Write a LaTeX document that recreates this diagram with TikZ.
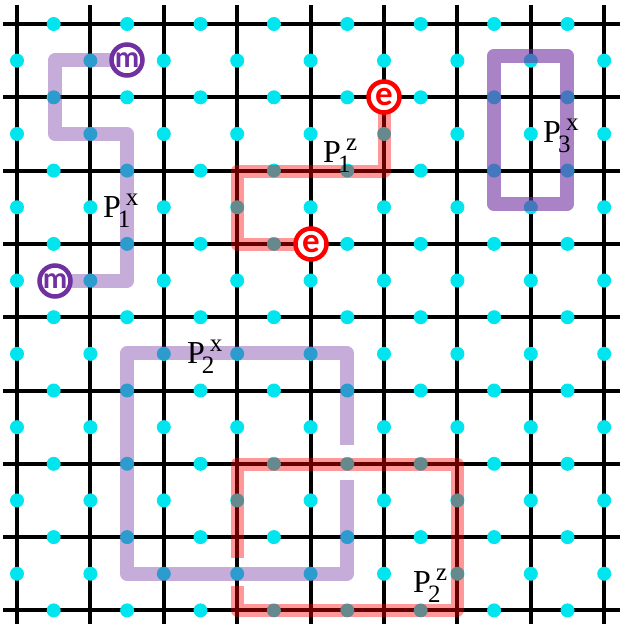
\documentclass[tikz,border=0pt]{standalone}
\usepackage{fontspec}
\setmainfont{Liberation Serif}
\newfontfamily\circfont{Carlito}
\definecolor{pur}{RGB}{112,48,160}
\definecolor{dotc}{RGB}{0,229,238}
\newcommand\plab[2]{\fontsize{32}{32}\selectfont P\kern-3pt\rlap{\raisebox{-10pt}{\fontsize{25}{25}\selectfont #1}}\kern8pt\raisebox{12pt}{\fontsize{25}{25}\selectfont #2}}
\tikzset{
  gridline/.style={line width=4pt, black},
  qdot/.style={fill=dotc, draw=none},
  xpath/.style={line width=13.5pt, pur, opacity=0.4, line join=round},
  xpathdark/.style={line width=14.5pt, pur, opacity=0.6, line join=round},
  zpath/.style={line width=13pt, red, opacity=0.4, line join=round},
  mcirc/.style={circle, draw=pur, fill=white, line width=4.5pt, minimum size=31pt, inner sep=0pt, text=pur, font=\circfont\bfseries\fontsize{30}{30}\selectfont},
  ecirc/.style={circle, draw=red, fill=white, line width=4.5pt, minimum size=31pt, inner sep=0pt, text=red, font=\circfont\bfseries\fontsize{35}{35}\selectfont},
  lab/.style={anchor=base west, inner sep=0pt, text=black}
}
\begin{document}
\begin{tikzpicture}[x=1pt,y=-1pt]
\useasboundingbox (0,0) rectangle (623,629);
% grid
\foreach \i in {0,...,8} { \draw[gridline] ({17+73.4*\i},5) -- ({17+73.4*\i},624); }
\foreach \j in {0,...,8} { \draw[gridline] (3,{24+73.3*\j}) -- (620,{24+73.3*\j}); }
% dots on edge midpoints
\foreach \i in {0,...,7} { \foreach \j in {0,...,8} {
  \fill[qdot] ({17+73.4*(\i+0.5)},{24+73.3*\j}) circle (7pt); } }
\foreach \i in {0,...,8} { \foreach \j in {0,...,7} {
  \fill[qdot] ({17+73.4*\i},{24+73.3*(\j+0.5)}) circle (7pt); } }
% named points
\coordinate (m1) at (127,60);
\coordinate (m2) at (55,281);
\coordinate (e1) at (384,97);
\coordinate (e2) at (311,244);
% P1^x
\draw[xpath] (m1) -- (55,60) -- (55,134) -- (127,134) -- (127,281) -- (m2);
% P3^x
\draw[xpathdark] (494,56) rectangle (567,204);
% P2^x with gap
\draw[xpath] (347,445) -- (347,353) -- (127,353) -- (127,574) -- (347,574) -- (347,480);
% P1^z
\draw[zpath] (e1) -- (384,171) -- (237,171) -- (237,244) -- (e2);
% P2^z with gap
\draw[zpath] (237,558) -- (237,464) -- (457,464) -- (457,610) -- (237,610) -- (237,586);
% circles
\node[mcirc] (mc1) at (m1) {m};
\node[mcirc] (mc2) at (m2) {m};
\node[ecirc] (ec1) at (e1) {e};
\node[ecirc] (ec2) at (e2) {e};
% labels
\node[lab] (l1x) at (103,217) {\plab{1}{x}};
\node[lab] (l1z) at (323,162) {\plab{1}{z}};
\node[lab] (l3x) at (543,142) {\plab{3}{x}};
\node[lab] (l2x) at (187,363) {\plab{2}{x}};
\node[lab] (l2z) at (413,592) {\plab{2}{z}};
\end{tikzpicture}
\end{document}
